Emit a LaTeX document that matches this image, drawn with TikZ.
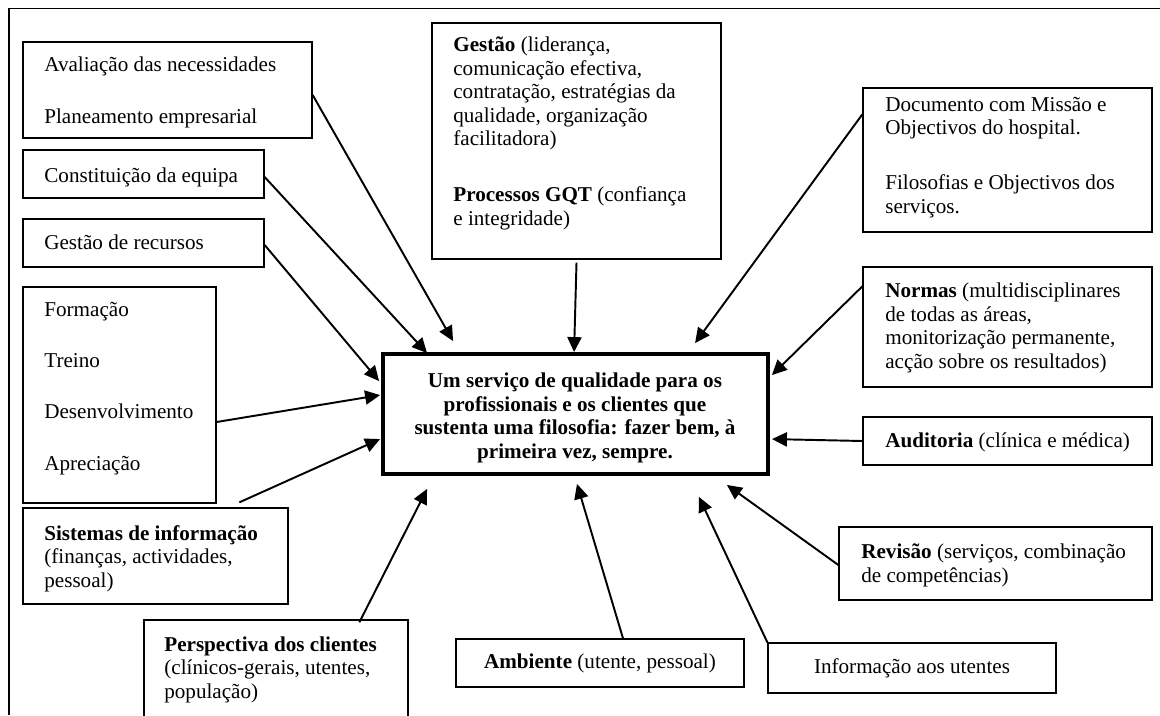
\documentclass[tikz,border=0pt]{standalone}
\usepackage{fontspec}
\setmainfont{Liberation Serif}
\usetikzlibrary{arrows.meta,fit,calc}

\begin{document}
\begin{tikzpicture}[x=0.568pt,y=-0.568pt,
  box/.style={draw,line width=0.75pt,inner sep=0pt},
  core/.style={draw,line width=2.2pt,inner sep=0pt},
  txt/.style={inner sep=0pt,anchor=base west,align=left,font=\fontsize{12}{13.3}\selectfont},
  ctxt/.style={inner sep=0pt,anchor=base,align=center,font=\fontsize{12}{13.3}\selectfont},
  arr/.style={line width=1.1pt,-{Triangle[length=8.5pt,width=8pt]}},
  frame/.style={line width=0.7pt}]

\useasboundingbox (0,0) rectangle (1160,715);
\clip (0,0) rectangle (1160,715);

% outer frame (top and left rules)
\coordinate (fbl) at (9,715);
\coordinate (ftl) at (9,8.5);
\coordinate (ftr) at (1160,8.5);
\draw[frame] (fbl) -- (ftl) -- (ftr);

% central statement (multi-line texts are placed by the baseline of their last line)
\node[core, fit={(383,354) (768,474)}] (ctr) {};
\node[ctxt, font=\fontsize{12}{13.3}\selectfont\bfseries] (ctr-t) at (575,458)
  {Um serviço de qualidade para os\\profissionais e os clientes que\\sustenta uma filosofia: fazer bem, à\\primeira vez, sempre.};

% left column
\node[box, fit={(23,42) (312,138)}] (aval) {};
\node[txt] (aval-t) at (44,123) {Avaliação das necessidades\\[15.7pt]Planeamento empresarial};

\node[box, fit={(23,150) (264,198)}] (const) {};
\node[txt] (const-t) at (44,182) {Constituição da equipa};

\node[box, fit={(23,219) (264,267)}] (recur) {};
\node[txt] (recur-t) at (44,249) {Gestão de recursos};

\node[box, fit={(23,287) (216,503)}] (form) {};
\node[txt] (form-t) at (44,470) {Formação\\[15.7pt]Treino\\[15.7pt]Desenvolvimento\\[15.7pt]Apreciação};

\node[box, fit={(23,508) (288,604)}] (sist) {};
\node[txt] (sist-t) at (44,587) {\textbf{Sistemas de informação}\\(finanças, actividades,\\pessoal)};

\node[box, fit={(144,620) (408,730)}] (persp) {};
\node[txt] (persp-t) at (164,698) {\textbf{Perspectiva dos clientes}\\(clínicos-gerais, utentes,\\população)};

% top centre
\node[box, fit={(432,23) (721,259)}] (gest) {};
\node[txt] (gest-t) at (453,225) {\textbf{Gestão} (liderança,\\comunicação efectiva,\\contratação, estratégias da\\qualidade, organização\\facilitadora)\\[18.5pt]\textbf{Processos GQT} (confiança\\e integridade)};

% right column
\node[box, fit={(863,88) (1152,232)}] (doc) {};
\node[txt] (doc-t) at (885,213) {Documento com Missão e\\Objectivos do hospital.\\[18pt]Filosofias e Objectivos dos\\serviços.};

\node[box, fit={(863,267) (1152,387)}] (norm) {};
\node[txt] (norm-t) at (885,368) {\textbf{Normas} (multidisciplinares\\de todas as áreas,\\monitorização permanente,\\acção sobre os resultados)};

\node[box, fit={(863,417) (1152,465)}] (aud) {};
\node[txt] (aud-t) at (885,447) {\textbf{Auditoria} (clínica e médica)};

\node[box, fit={(839,527) (1152,600)}] (rev) {};
\node[txt] (rev-t) at (861,582) {\textbf{Revisão} (serviços, combinação\\de competências)};

% bottom
\node[box, fit={(768,643) (1056,693)}] (info) {};
\node[ctxt] (info-t) at (912,673) {Informação aos utentes};

\node[box, fit={(456,639) (744,687)}] (amb) {};
\node[ctxt] (amb-t) at (600,668) {\textbf{Ambiente} (utente, pessoal)};

% connectors into the central statement
\draw[arr] ($(aval.east)+(0,5)$)        -- ($(ctr.north west)+(72,-11)$);
\draw[arr] ($(const.east)+(0,3)$)       -- ($(ctr.north west)+(46,1)$);
\draw[arr] ($(recur.east)+(0,2)$)       -- ($(ctr.north west)+(-2,29)$);
\draw[arr] ($(form.east)+(0,27)$)       -- ($(ctr.north west)+(-1,43)$);
\draw[arr] ($(sist.north west)+(217,-5)$) -- ($(ctr.north west)+(-1,87)$);
\draw[arr] ($(persp.north west)+(216,3)$) -- ($(ctr.south west)+(46,13)$);
\draw[arr] ($(gest.south)+(0,3)$)       -- ($(ctr.north west)+(193,0)$);
\draw[arr] ($(doc.north west)+(0,27)$)  -- ($(ctr.north west)+(314,-9)$);
\draw[arr] ($(norm.north west)+(0,20)$) -- ($(ctr.north east)+(2,23)$);
\draw[arr] (aud.west)                   -- ($(ctr.north east)+(2,87)$);
\draw[arr] ($(rev.west)+(0,1.5)$)       -- ($(ctr.south east)+(-43,9)$);
\draw[arr] (info.north west)            -- ($(ctr.south east)+(-71,21)$);
\draw[arr] ($(amb.north)+(23,0)$)       -- ($(ctr.south)+(1.5,8)$);

\end{tikzpicture}
\end{document}
